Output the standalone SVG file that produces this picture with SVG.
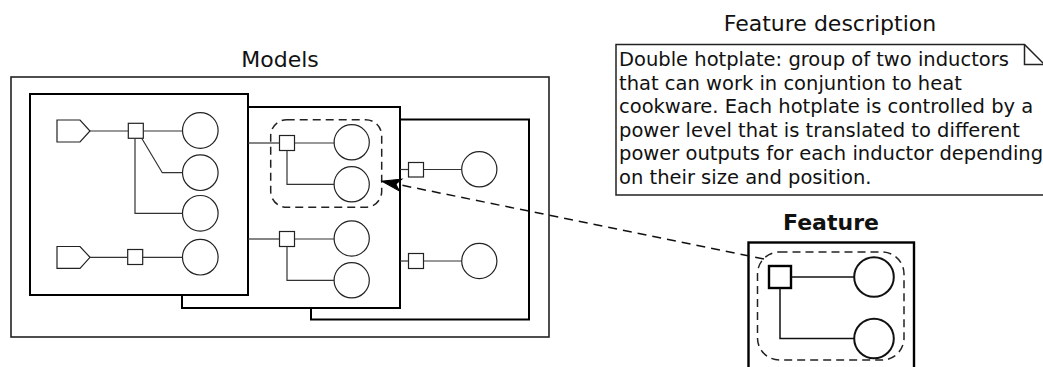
<svg xmlns="http://www.w3.org/2000/svg" width="1043" height="367" viewBox="0 0 1043 367">
<style>
.title{font-family:"DejaVu Sans","Verdana",sans-serif;font-size:22px;fill:#111;text-anchor:middle}
.bold{font-weight:bold}
.note{font-family:"DejaVu Sans","Verdana",sans-serif;font-size:19.5px;fill:#111}
.box{fill:#fff;stroke:#000;stroke-width:2}
.outer{fill:#fff;stroke:#222;stroke-width:1.6}
.circ{fill:#fff;stroke:#222;stroke-width:1.2}
.sq{fill:#fff;stroke:#222;stroke-width:1.2}
.ln{fill:none;stroke:#333;stroke-width:1.2}
.dash{fill:none;stroke:#222;stroke-width:1.5;stroke-dasharray:8 5}
.fcirc{fill:#fff;stroke:#111;stroke-width:2}
.fln{fill:none;stroke:#111;stroke-width:1.5}
</style>
<defs>
<marker id="arr" markerUnits="userSpaceOnUse" orient="auto" markerWidth="30" markerHeight="20" viewBox="-22 -10 30 20" refX="0" refY="0">
<path d="M0,0 L-19,-6 L-14,0 L-19,6 Z" fill="#000" stroke="#000" stroke-width="1"/>
</marker>
</defs>

<g id="models">
<text class="title" x="280" y="66.5">Models</text>
<rect class="outer" x="11" y="77" width="538" height="260"/>
</g>

<g id="model3">
<rect class="box" x="311" y="119.5" width="218" height="200"/>
<rect class="sq" x="408.5" y="162.5" width="15" height="14.5"/>
<circle class="circ" cx="479.3" cy="169.3" r="17.6"/>
<rect class="sq" x="408.5" y="253.5" width="15" height="15"/>
<circle class="circ" cx="479.3" cy="261" r="17.6"/>
</g>

<g id="model2">
<rect class="box" x="182" y="107" width="218" height="201"/>
<rect class="dash" x="270.7" y="119.7" width="111" height="87.6" rx="16"/>
<rect class="sq" x="279.5" y="135.5" width="15" height="15"/>
<circle class="circ" cx="351.7" cy="142.3" r="17.6"/>
<circle class="circ" cx="351.7" cy="184.3" r="17.6"/>
<rect class="sq" x="279.5" y="231.5" width="15" height="15"/>
<circle class="circ" cx="351.7" cy="238.5" r="17.6"/>
<circle class="circ" cx="351.7" cy="280.3" r="17.6"/>
</g>

<g id="model1">
<rect class="box" x="30" y="94" width="218" height="201"/>
<polygon class="sq" points="57,120 80,120 90,131 80,142 57,142"/>
<rect class="sq" x="128.3" y="123.3" width="15" height="15"/>
<circle class="circ" cx="200.3" cy="130.5" r="17.8"/>
<circle class="circ" cx="200.3" cy="172.7" r="17.8"/>
<circle class="circ" cx="200.3" cy="213.3" r="17.8"/>
<polygon class="sq" points="57,246.5 80,246.5 90,257.3 80,268.3 57,268.3"/>
<rect class="sq" x="127.7" y="249.5" width="15" height="15"/>
<circle class="circ" cx="200.3" cy="257.2" r="17.8"/>
</g>

<g id="note">
<text class="title" x="830" y="30.7">Feature description</text>
<path d="M616,44.5 H1024.5 L1044.5,64.5 V195 H616 Z" fill="#fff" stroke="#222" stroke-width="1.5"/>
<path d="M1024.5,44.5 V64.5 H1044.5" fill="none" stroke="#222" stroke-width="1.5"/>
<text class="note" x="619" y="66">Double hotplate: group of two inductors</text>
<text class="note" x="619" y="89.5">that can work in conjuntion to heat</text>
<text class="note" x="619" y="113">cookware. Each hotplate is controlled by a</text>
<text class="note" x="619" y="136.5">power level that is translated to different</text>
<text class="note" x="619" y="160">power outputs for each inductor depending</text>
<text class="note" x="619" y="183.5">on their size and position.</text>
</g>

<g id="feature">
<text class="title bold" x="831" y="230">Feature</text>
<rect x="748.5" y="242.5" width="165.5" height="200" fill="#fff" stroke="#000" stroke-width="2.4"/>
<rect class="dash" x="757.5" y="252" width="146.5" height="108" rx="22"/>
<rect x="769" y="266" width="22" height="22" fill="#fff" stroke="#000" stroke-width="2.4"/>
<circle class="fcirc" cx="874" cy="277" r="19.8"/>
<circle class="fcirc" cx="874" cy="338.5" r="19.8"/>
</g>

<g id="connectors">
<line class="ln" x1="90" y1="131" x2="128.3" y2="131"/>
<line class="ln" x1="143.3" y1="131" x2="182.5" y2="131"/>
<polyline class="ln" points="141.7,138.3 162.3,172.7 182.5,172.7"/>
<polyline class="ln" points="135,138.3 135,213.3 182.5,213.3"/>
<line class="ln" x1="90" y1="257.3" x2="127.7" y2="257.3"/>
<line class="ln" x1="142.7" y1="257.3" x2="182.5" y2="257.3"/>

<line class="ln" x1="248" y1="143" x2="279.5" y2="143"/>
<line class="ln" x1="294.5" y1="143" x2="334.1" y2="143"/>
<polyline class="ln" points="287,150.5 287,184.3 334.1,184.3"/>
<line class="ln" x1="248" y1="239" x2="279.5" y2="239"/>
<line class="ln" x1="294.5" y1="239" x2="334.1" y2="239"/>
<polyline class="ln" points="287,246.5 287,280.3 334.1,280.3"/>

<line class="ln" x1="400" y1="169.5" x2="408.5" y2="169.5"/>
<line class="ln" x1="423.5" y1="169.5" x2="461.7" y2="169.5"/>
<line class="ln" x1="400" y1="261" x2="408.5" y2="261"/>
<line class="ln" x1="423.5" y1="261" x2="461.7" y2="261"/>

<line class="fln" x1="791" y1="277" x2="854.2" y2="277"/>
<polyline class="fln" points="780,288 780,338.5 854.2,338.5"/>

<line x1="764" y1="259" x2="382" y2="181.2" fill="none" stroke="#111" stroke-width="1.5" stroke-dasharray="9 6" marker-end="url(#arr)"/>
</g>
</svg>
